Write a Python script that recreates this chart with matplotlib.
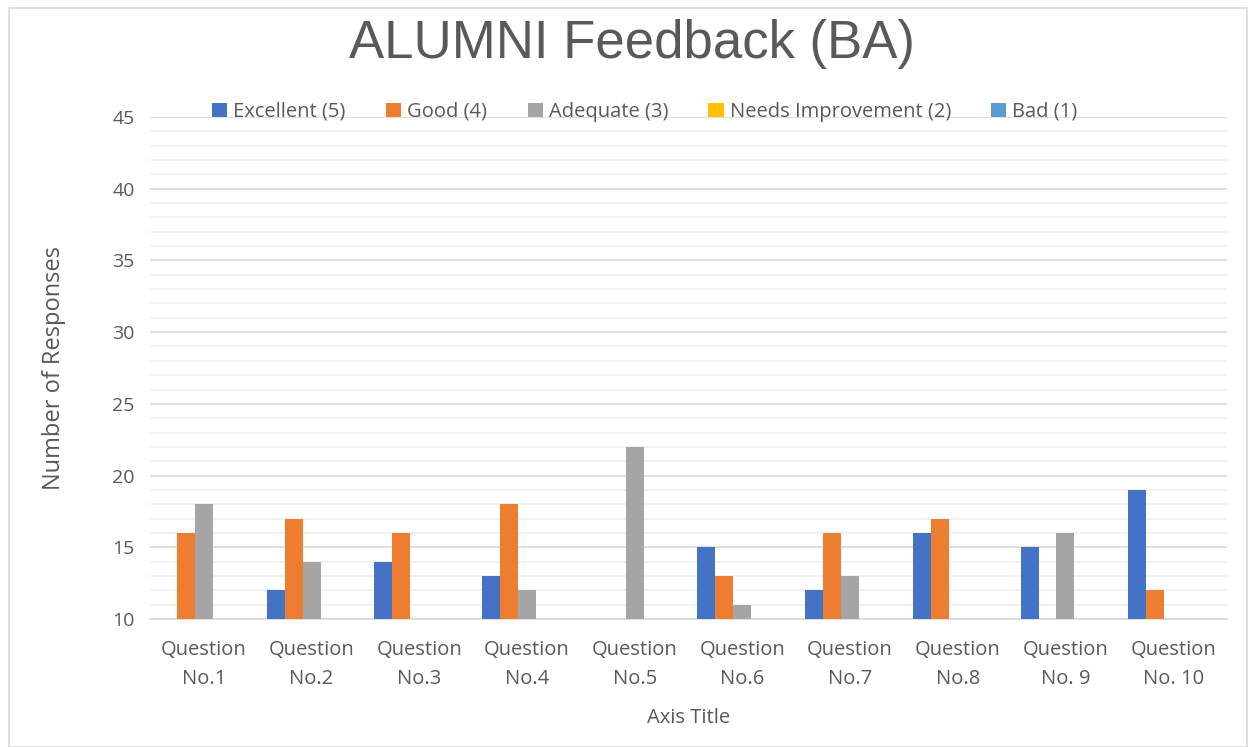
import matplotlib
matplotlib.use("Agg")
import matplotlib.pyplot as plt
import numpy as np
from matplotlib.patches import Rectangle

categories = ["Question\nNo.1", "Question\nNo.2", "Question\nNo.3", "Question\nNo.4",
              "Question\nNo.5", "Question\nNo.6", "Question\nNo.7", "Question\nNo.8",
              "Question\nNo. 9", "Question\nNo. 10"]
series_names = ["Excellent (5)", "Good (4)", "Adequate (3)", "Needs Improvement (2)", "Bad (1)"]
excellent = [0, 12, 14, 13, 0, 15, 12, 16, 15, 19]
good = [16, 17, 16, 18, 0, 13, 16, 17, 0, 12]
adequate = [18, 14, 0, 12, 22, 11, 13, 0, 16, 0]
needs_improvement = [0, 0, 0, 0, 0, 0, 0, 0, 0, 0]
bad = [0, 0, 0, 0, 0, 0, 0, 0, 0, 0]
colors = ["#4472C4", "#ED7D31", "#A5A5A5", "#FFC000", "#5B9BD5"]

plt.rcParams['font.family'] = ['Open Sans', 'DejaVu Sans']
txt = "#595959"

fig = plt.figure(figsize=(12.5, 7.47), dpi=100)
fig.patches.append(Rectangle((9/1250, 0), 1 - 12/1250, 1 - 8/747, transform=fig.transFigure,
                             fill=False, edgecolor="#d9d9d9", linewidth=1.2))
ax = fig.add_axes([150/1250, (747-619)/747, (1227-150)/1250, (619-117)/747])

data = [excellent, good, adequate, needs_improvement, bad]
x = np.arange(len(categories))
w = 1/6
handles = []
for k, (vals, name, c) in enumerate(zip(data, series_names, colors)):
    h = ax.bar(x + (k - 2) * w, vals, width=w, color=c, label=name, zorder=3)
    handles.append(h)

ax.set_ylim(10, 45)
ax.set_xlim(-0.5, len(categories) - 0.5)
ax.set_yticks(np.arange(10, 46, 5))
ax.set_yticks(np.arange(10, 46, 1), minor=True)
ax.yaxis.grid(True, which="major", color="#d9d9d9", linewidth=1.2, zorder=0)
ax.yaxis.grid(True, which="minor", color="#efefef", linewidth=1.2, zorder=0)
ax.set_xticks(x)
ax.set_xticklabels(categories, fontsize=14.5, color=txt, linespacing=1.6)
ax.tick_params(axis="both", which="both", length=0)
ax.tick_params(axis="y", labelsize=14, labelcolor=txt, pad=11)
ax.tick_params(axis="x", pad=15)
for s in ["top", "right", "left"]:
    ax.spines[s].set_visible(False)
ax.spines["bottom"].set_color("#d9d9d9")
ax.spines["bottom"].set_linewidth(1.2)

ax.set_ylabel("Number of Responses", fontsize=17, color=txt, labelpad=33)
ax.set_xlabel("Axis Title", fontsize=14.5, color=txt, labelpad=14)

fig.text(632/1250, 1 - 44/747, "ALUMNI Feedback (BA)", ha="center", va="center",
         fontsize=38, color=txt, family=["Liberation Sans Narrow", "Liberation Sans", "DejaVu Sans"])

leg = fig.legend(handles=handles, loc="center", bbox_to_anchor=(645/1250, 1 - 112/747),
                 ncol=5, frameon=False, fontsize=14.5, handlelength=0.75, handleheight=0.75,
                 handletextpad=0.3, columnspacing=2.0, borderaxespad=0)
for t in leg.get_texts():
    t.set_color(txt)

fig.savefig("out.png", dpi=100, facecolor="white")
